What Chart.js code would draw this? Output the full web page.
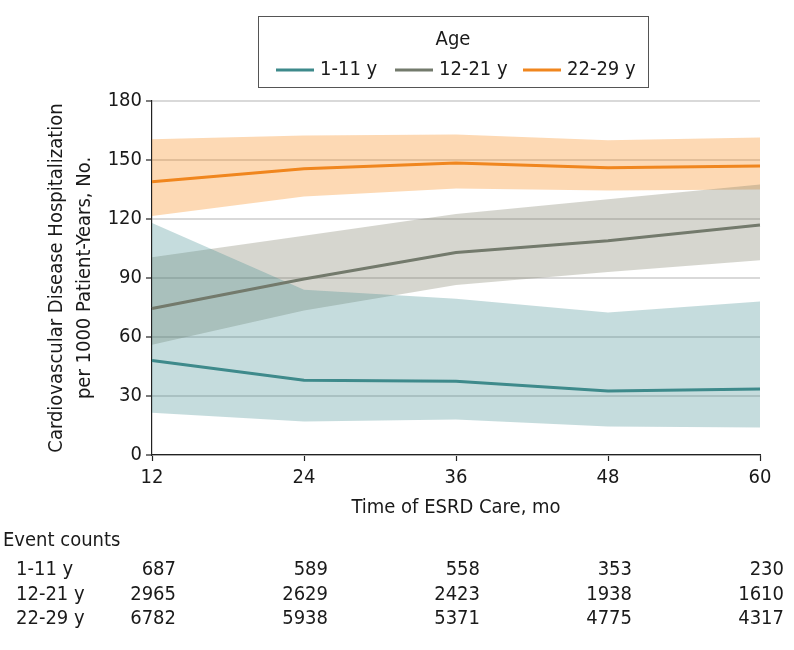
<!DOCTYPE html>
<html>
<head>
<meta charset="utf-8">
<script src="https://cdn.jsdelivr.net/npm/chart.js@4/dist/chart.umd.min.js"></script>
<style>
  html, body { margin: 0; padding: 0; background: #fff; }
  #wrap { width: 794px; height: 650px; position: relative; }
</style>
</head>
<body>
<div id="wrap"><canvas id="chart" width="794" height="650"></canvas></div>
<script>
// ---- data ----
const months = [12, 24, 36, 48, 60];
const groups = ['1-11 y', '12-21 y', '22-29 y'];

const rate_1_11 = [48, 38, 37.5, 32.5, 33.5];
const lower_1_11 = [21.5, 17, 18, 14.5, 14];
const upper_1_11 = [118, 84, 79.5, 72.5, 78];

const rate_12_21 = [74.5, 89.5, 103, 109, 117];
const lower_12_21 = [56, 73.5, 86.5, 93, 99];
const upper_12_21 = [100.5, 111.5, 122.5, 130, 137.5];

const rate_22_29 = [139, 145.5, 148.5, 146, 147];
const lower_22_29 = [121.5, 131.5, 135.5, 134.5, 135];
const upper_22_29 = [160.5, 162.5, 163, 160, 161.5];

const counts_1_11 = [687, 589, 558, 353, 230];
const counts_12_21 = [2965, 2629, 2423, 1938, 1610];
const counts_22_29 = [6782, 5938, 5371, 4775, 4317];

const yTicks = [0, 30, 60, 90, 120, 150, 180];

// ---- styles ----
const FONT = "'DejaVu Sans Condensed', 'Liberation Sans Narrow', 'Roboto Condensed', 'Noto Sans', sans-serif";
const TEXT = '#1a1a1a';
const lineColors = ['#3e8a8b', '#737a6c', '#f0861e'];
const bandColors = ['rgba(62,138,142,0.3)', 'rgba(118,118,95,0.3)', 'rgba(248,128,8,0.3)'];

const rates = [rate_1_11, rate_12_21, rate_22_29];
const lowers = [lower_1_11, lower_12_21, lower_22_29];
const uppers = [upper_1_11, upper_12_21, upper_22_29];
const counts = [counts_1_11, counts_12_21, counts_22_29];

function buildDatasets() {
    const sets = [];
    groups.forEach((g, i) => {
        sets.push({
            label: g + ' lower', data: lowers[i], borderWidth: 0, pointRadius: 0,
            fill: false, order: 2, backgroundColor: 'transparent', borderColor: 'transparent'
        });
        sets.push({
            label: g + ' upper', data: uppers[i], borderWidth: 0, pointRadius: 0,
            fill: '-1', order: 2, backgroundColor: bandColors[i], borderColor: 'transparent'
        });
    });
    groups.forEach((g, i) => {
        sets.push({
            label: g, data: rates[i], borderColor: lineColors[i], borderWidth: 3,
            pointRadius: 0, fill: false, order: 0, tension: 0
        });
    });
    return sets;
}

// legend box + event counts table, drawn on the canvas
const extrasPlugin = {
    id: 'extras',
    afterDraw(chart) {
        const ctx = chart.ctx;
        ctx.save();

        // legend
        ctx.strokeStyle = '#555';
        ctx.lineWidth = 1;
        ctx.strokeRect(258.5, 16.5, 390, 71);
        ctx.fillStyle = TEXT;
        ctx.font = '20px ' + FONT;
        ctx.textAlign = 'center';
        ctx.textBaseline = 'middle';
        ctx.fillText('Age', 453, 40);
        const itemX = [276, 395, 523];
        ctx.textAlign = 'left';
        groups.forEach((g, i) => {
            ctx.strokeStyle = lineColors[i];
            ctx.lineWidth = 3;
            ctx.beginPath();
            ctx.moveTo(itemX[i], 70);
            ctx.lineTo(itemX[i] + 38, 70);
            ctx.stroke();
            ctx.fillStyle = TEXT;
            ctx.fillText(g, itemX[i] + 44, 70);
        });

        // event counts table
        const x = chart.scales.x;
        ctx.font = '20px ' + FONT;
        ctx.fillStyle = TEXT;
        ctx.textAlign = 'left';
        ctx.fillText('Event counts', 3, 541);
        const rowY = [570, 595, 619];
        groups.forEach((g, r) => {
            ctx.textAlign = 'left';
            ctx.fillText(g, 16, rowY[r]);
            ctx.textAlign = 'right';
            counts[r].forEach((c, k) => {
                ctx.fillText(String(c), x.getPixelForValue(k) + 24, rowY[r]);
            });
        });
        ctx.restore();
    }
};

new Chart(document.getElementById('chart'), {
    type: 'line',
    data: { labels: months, datasets: buildDatasets() },
    options: {
        responsive: false,
        animation: false,
        layout: { padding: { left: 0, top: 101, right: 34, bottom: 127 } },
        plugins: {
            legend: { display: false },
            tooltip: { enabled: false },
            filler: { propagate: false }
        },
        scales: {
            x: {
                offset: false,
                afterFit(scale) { scale.height = 68; },
                grid: { drawOnChartArea: false, drawTicks: true, tickLength: 6, tickColor: '#222', tickWidth: 1.2 },
                border: { color: '#222', width: 1.2 },
                ticks: { color: TEXT, font: { family: FONT, size: 20 }, padding: 5, maxRotation: 0 },
                title: {
                    display: true, text: 'Time of ESRD Care, mo', color: TEXT,
                    font: { family: FONT, size: 20 }, padding: { top: 0, bottom: 3 }
                }
            },
            y: {
                min: 0, max: 180,
                afterFit(scale) { scale.width = 152; },
                afterBuildTicks(scale) { scale.ticks = yTicks.map(v => ({ value: v })); },
                grid: { color: '#d9d9d9', lineWidth: 2, drawTicks: true, tickLength: 6, tickColor: '#222', tickWidth: 1.2 },
                border: { color: '#222', width: 1.2 },
                ticks: { color: TEXT, font: { family: FONT, size: 20 }, padding: 4 },
                title: {
                    display: true,
                    text: ['Cardiovascular Disease Hospitalization', 'per 1000 Patient-Years, No.'],
                    color: TEXT, font: { family: FONT, size: 20, lineHeight: 1.4 },
                    padding: { top: 43, bottom: 0 }
                }
            }
        }
    },
    plugins: [extrasPlugin]
});
</script>
</body>
</html>
